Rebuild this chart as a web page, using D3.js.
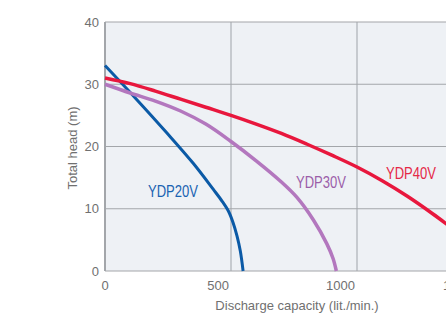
<!DOCTYPE html>
<html>
<head>
<meta charset="utf-8">
<script src="https://cdn.jsdelivr.net/npm/d3@7"></script>
<style>
  body { margin: 0; background: #fff; }
  svg { display: block; font-family: "Liberation Sans", Arial, sans-serif; }
</style>
</head>
<body>
<div id="chart-area"></div>
<script>
// pump curves: discharge (lit./min.) vs total head (m)
const ydp20v = [[0,33],[120,27.8],[245,22.2],[350,17.3],[430,13.1],[465,11.2],[490,9.6],[508,7.8],[524,5.6],[537,3.2],[548,0]]
const ydp30v = [[0,30],[100,28.6],[200,27.3],[300,25.7],[400,23.6],[500,20.8],[600,17.7],[700,14.3],[760,11.9],[827,8.2],[880,4.4],[905,2],[918,0]]
const ydp40v = [[0,31],[100,30.1],[200,28.9],[300,27.6],[400,26.3],[500,25],[600,23.6],[700,22.1],[800,20.4],[900,18.6],[1000,16.7],[1100,14.5],[1200,12],[1300,9.2],[1400,6.2]]

const seriesNames = ["YDP20V","YDP30V","YDP40V"]
const xTicks = [0,500,1000,1500]
const yTicks = [0,10,20,30,40]

const MARGIN = {LEFT:105,RIGHT:0,TOP:22,BOTTOM:42}
const W = 446, H = 313
const WIDTH = W - MARGIN.LEFT - MARGIN.RIGHT
const HEIGHT = H - MARGIN.TOP - MARGIN.BOTTOM

const svg = d3.select("#chart-area").append("svg")
	.attr("width",W)
	.attr("height",H)

const g = svg.append("g")
	.attr("transform",`translate(${MARGIN.LEFT},${MARGIN.TOP})`)

const x = d3.scaleLinear()
	.domain([0,1000])
	.range([0,252])

const y = d3.scaleLinear()
	.domain([0,40])
	.range([HEIGHT,0])

// plot background
g.append("rect")
	.attr("width",WIDTH+20)
	.attr("height",HEIGHT)
	.attr("fill","#eef1f5")

// vertical grid
g.selectAll(".vgrid")
	.data(xTicks.filter(d=>d>0))
	.enter().append("line")
	.attr("x1",d=>x(d)).attr("x2",d=>x(d))
	.attr("y1",0).attr("y2",HEIGHT)
	.attr("stroke","#c6cacf")
	.attr("stroke-width",2)

// horizontal grid
g.selectAll(".hgrid")
	.data(yTicks)
	.enter().append("line")
	.attr("x1",0).attr("x2",WIDTH+20)
	.attr("y1",d=>y(d)).attr("y2",d=>y(d))
	.attr("stroke","#a3a6aa")
	.attr("stroke-width",1.2)

// left axis line
g.append("line")
	.attr("x1",0).attr("x2",0)
	.attr("y1",0).attr("y2",HEIGHT)
	.attr("stroke","#a3a6aa")
	.attr("stroke-width",2)

// y tick labels
g.selectAll(".ylab")
	.data(yTicks)
	.enter().append("text")
	.attr("x",-6)
	.attr("y",d=>y(d)+4.5)
	.attr("text-anchor","end")
	.attr("font-size","13px")
	.attr("fill","#707070")
	.text(d=>d)

// x tick labels (sit just left of their grid line, last one is cut by the edge)
g.selectAll(".xlab")
	.data(xTicks)
	.enter().append("text")
	.attr("x",d=>d===0 ? x(d) : x(d) - (d>1000 ? 11 : 2))
	.attr("y",HEIGHT+19)
	.attr("text-anchor",d=>d===0 ? "middle" : "end")
	.attr("font-size","13px")
	.attr("fill","#707070")
	.text(d=>d)

// axis titles
svg.append("text")
	.attr("x",297)
	.attr("y",310)
	.attr("text-anchor","middle")
	.attr("font-size","13px")
	.attr("fill","#707070")
	.text("Discharge capacity (lit./min.)")

svg.append("text")
	.attr("transform","translate(77,148) rotate(-90)")
	.attr("text-anchor","middle")
	.attr("font-size","13px")
	.attr("fill","#707070")
	.text("Total head (m)")

// curves
const line = d3.line()
	.x(d=>x(d[0]))
	.y(d=>y(d[1]))
	.curve(d3.curveCatmullRom.alpha(0.5))

const curves = [
	{name:seriesNames[0],data:ydp20v,color:"#0b5aa6",width:3,lx:148,ly:196.5,lc:"#1a63b2"},
	{name:seriesNames[1],data:ydp30v,color:"#b377be",width:3.5,lx:296,ly:188,lc:"#9b5ea9"},
	{name:seriesNames[2],data:ydp40v,color:"#e8173d",width:3.5,lx:386,ly:179,lc:"#e52847"}
]

curves.forEach(c=>{
	g.append("path")
		.datum(c.data)
		.attr("fill","none")
		.attr("stroke",c.color)
		.attr("stroke-width",c.width)
		.attr("d",line)

	// condensed labels: squeeze the regular face to the narrow width
	svg.append("text")
		.attr("x",c.lx)
		.attr("y",c.ly)
		.attr("font-size","16px")
		.attr("textLength",50)
		.attr("lengthAdjust","spacingAndGlyphs")
		.attr("fill",c.lc)
		.text(c.name)
})
</script>
</body>
</html>
